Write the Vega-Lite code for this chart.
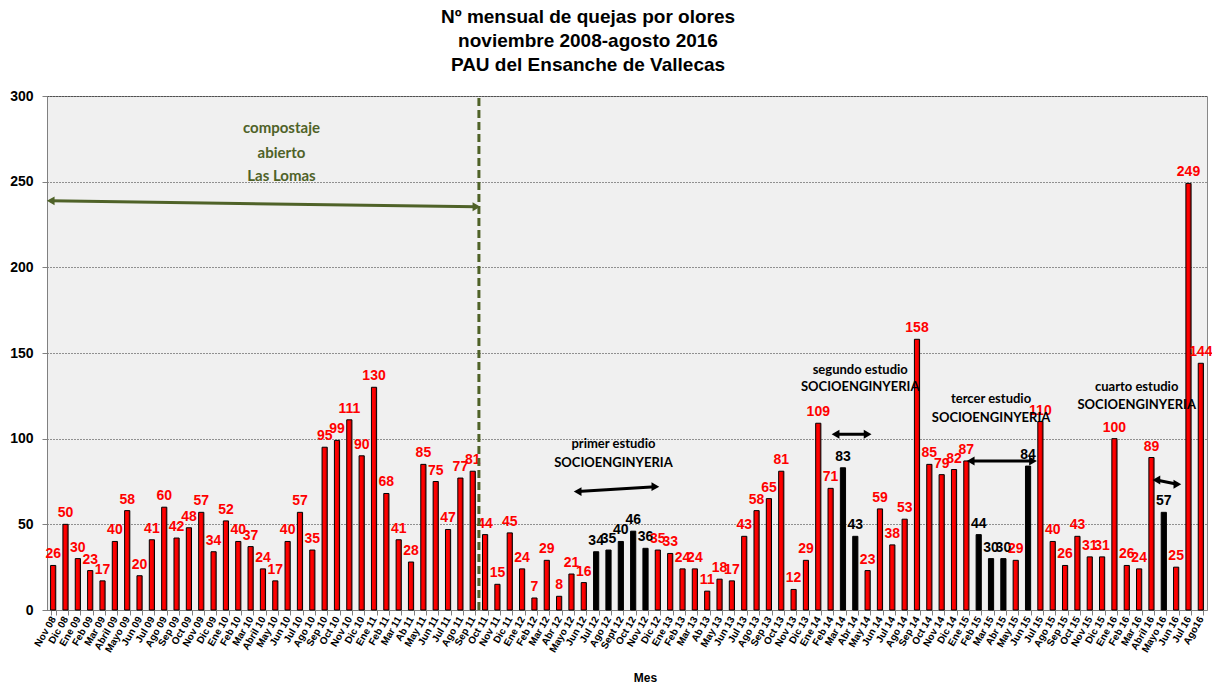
{
  "$schema": "https://vega.github.io/schema/vega-lite/v6.json",
  "width": 1160,
  "height": 514,
  "autosize": {"type": "none"},
  "padding": {"left": 47, "top": 96, "right": 5, "bottom": 76},
  "background": "#FFFFFF",
  "title": {
    "text": ["Nº mensual de quejas por olores", "noviembre 2008-agosto 2016", "PAU del Ensanche de Vallecas"],
    "font": "Liberation Sans Narrow, Liberation Sans, sans-serif",
    "fontSize": 19,
    "fontWeight": "bold",
    "lineHeight": 24,
    "anchor": "middle",
    "dx": -39,
    "offset": 14,
    "color": "#000000"
  },
  "config": {"view": {"fill": "#F0F0F0", "stroke": "#888888"}},
  "datasets": {
    "meses": [
      {"mes": "Nov 08", "quejas": 26, "tipo": "normal"},
      {"mes": "Dic 08", "quejas": 50, "tipo": "normal"},
      {"mes": "Ene 09", "quejas": 30, "tipo": "normal"},
      {"mes": "Feb 09", "quejas": 23, "tipo": "normal"},
      {"mes": "Mar 09", "quejas": 17, "tipo": "normal"},
      {"mes": "Abril 09", "quejas": 40, "tipo": "normal"},
      {"mes": "Mayo 09", "quejas": 58, "tipo": "normal"},
      {"mes": "Jun 09", "quejas": 20, "tipo": "normal"},
      {"mes": "Jul 09", "quejas": 41, "tipo": "normal"},
      {"mes": "Ago 09", "quejas": 60, "tipo": "normal"},
      {"mes": "Sep 09", "quejas": 42, "tipo": "normal"},
      {"mes": "Oct 09", "quejas": 48, "tipo": "normal"},
      {"mes": "Nov 09", "quejas": 57, "tipo": "normal"},
      {"mes": "Dic 09", "quejas": 34, "tipo": "normal"},
      {"mes": "Ene 10", "quejas": 52, "tipo": "normal"},
      {"mes": "Feb 10", "quejas": 40, "tipo": "normal"},
      {"mes": "Mar 10", "quejas": 37, "tipo": "normal"},
      {"mes": "Abril 10", "quejas": 24, "tipo": "normal"},
      {"mes": "May 10", "quejas": 17, "tipo": "normal"},
      {"mes": "Jun 10", "quejas": 40, "tipo": "normal"},
      {"mes": "Jul 10", "quejas": 57, "tipo": "normal"},
      {"mes": "Ago 10", "quejas": 35, "tipo": "normal"},
      {"mes": "Sep 10", "quejas": 95, "tipo": "normal"},
      {"mes": "Oct 10", "quejas": 99, "tipo": "normal"},
      {"mes": "Nov 10", "quejas": 111, "tipo": "normal"},
      {"mes": "Dic 10", "quejas": 90, "tipo": "normal"},
      {"mes": "Ene 11", "quejas": 130, "tipo": "normal"},
      {"mes": "Feb 11", "quejas": 68, "tipo": "normal"},
      {"mes": "Mar 11", "quejas": 41, "tipo": "normal"},
      {"mes": "Ab 11", "quejas": 28, "tipo": "normal"},
      {"mes": "May 11", "quejas": 85, "tipo": "normal"},
      {"mes": "Jun 11", "quejas": 75, "tipo": "normal"},
      {"mes": "Jul 11", "quejas": 47, "tipo": "normal"},
      {"mes": "Ago 11", "quejas": 77, "tipo": "normal"},
      {"mes": "Sep 11", "quejas": 81, "tipo": "normal"},
      {"mes": "Oct 11", "quejas": 44, "tipo": "normal"},
      {"mes": "Nov 11", "quejas": 15, "tipo": "normal"},
      {"mes": "Dic 11", "quejas": 45, "tipo": "normal"},
      {"mes": "Ene 12", "quejas": 24, "tipo": "normal"},
      {"mes": "Feb 12", "quejas": 7, "tipo": "normal"},
      {"mes": "Mar 12", "quejas": 29, "tipo": "normal"},
      {"mes": "Abr 12", "quejas": 8, "tipo": "normal"},
      {"mes": "Mayo 12", "quejas": 21, "tipo": "normal"},
      {"mes": "Jun 12", "quejas": 16, "tipo": "normal"},
      {"mes": "Jul 12", "quejas": 34, "tipo": "estudio"},
      {"mes": "Ago 12", "quejas": 35, "tipo": "estudio"},
      {"mes": "Sept 12", "quejas": 40, "tipo": "estudio"},
      {"mes": "Oct 12", "quejas": 46, "tipo": "estudio"},
      {"mes": "Nov 12", "quejas": 36, "tipo": "estudio"},
      {"mes": "Dic 12", "quejas": 35, "tipo": "normal"},
      {"mes": "Ene 13", "quejas": 33, "tipo": "normal"},
      {"mes": "Feb 13", "quejas": 24, "tipo": "normal"},
      {"mes": "Mar 13", "quejas": 24, "tipo": "normal"},
      {"mes": "Ab 13", "quejas": 11, "tipo": "normal"},
      {"mes": "May 13", "quejas": 18, "tipo": "normal"},
      {"mes": "Jun 13", "quejas": 17, "tipo": "normal"},
      {"mes": "Jul 13", "quejas": 43, "tipo": "normal"},
      {"mes": "Ago 13", "quejas": 58, "tipo": "normal"},
      {"mes": "Sep 13", "quejas": 65, "tipo": "normal"},
      {"mes": "Oct 13", "quejas": 81, "tipo": "normal"},
      {"mes": "Nov 13", "quejas": 12, "tipo": "normal"},
      {"mes": "Dic 13", "quejas": 29, "tipo": "normal"},
      {"mes": "Ene 14", "quejas": 109, "tipo": "normal"},
      {"mes": "Feb 14", "quejas": 71, "tipo": "normal"},
      {"mes": "Mar 14", "quejas": 83, "tipo": "estudio"},
      {"mes": "Abr 14", "quejas": 43, "tipo": "estudio"},
      {"mes": "May 14", "quejas": 23, "tipo": "normal"},
      {"mes": "Jun 14", "quejas": 59, "tipo": "normal"},
      {"mes": "Jul 14", "quejas": 38, "tipo": "normal"},
      {"mes": "Ago 14", "quejas": 53, "tipo": "normal"},
      {"mes": "Sep 14", "quejas": 158, "tipo": "normal"},
      {"mes": "Oct 14", "quejas": 85, "tipo": "normal"},
      {"mes": "Nov 14", "quejas": 79, "tipo": "normal"},
      {"mes": "Dic 14", "quejas": 82, "tipo": "normal"},
      {"mes": "Ene 15", "quejas": 87, "tipo": "normal"},
      {"mes": "Feb 15", "quejas": 44, "tipo": "estudio"},
      {"mes": "Mar 15", "quejas": 30, "tipo": "estudio"},
      {"mes": "Abr 15", "quejas": 30, "tipo": "estudio"},
      {"mes": "May 15", "quejas": 29, "tipo": "normal"},
      {"mes": "Jun 15", "quejas": 84, "tipo": "estudio"},
      {"mes": "Jul 15", "quejas": 110, "tipo": "normal"},
      {"mes": "Ago 15", "quejas": 40, "tipo": "normal"},
      {"mes": "Sep 15", "quejas": 26, "tipo": "normal"},
      {"mes": "Oct 15", "quejas": 43, "tipo": "normal"},
      {"mes": "Nov 15", "quejas": 31, "tipo": "normal"},
      {"mes": "Dic 15", "quejas": 31, "tipo": "normal"},
      {"mes": "Ene 16", "quejas": 100, "tipo": "normal"},
      {"mes": "Feb 16", "quejas": 26, "tipo": "normal"},
      {"mes": "Mar 16", "quejas": 24, "tipo": "normal"},
      {"mes": "Abril 16", "quejas": 89, "tipo": "normal"},
      {"mes": "Mayo 16", "quejas": 57, "tipo": "estudio"},
      {"mes": "Jun 16", "quejas": 25, "tipo": "normal"},
      {"mes": "Jul 16", "quejas": 249, "tipo": "normal"},
      {"mes": "Ago16", "quejas": 144, "tipo": "normal"}
    ],
    "lineas": [
      {"pos": 35, "y0": 0, "y1": 300}
    ],
    "flechas": [
      {"x1": 0.3, "y1": 238.8, "x2": 34.8, "y2": 235.4, "tipo": "compostaje"},
      {"x1": 43.0, "y1": 69.1, "x2": 49.3, "y2": 72.0, "tipo": "estudio"},
      {"x1": 63.9, "y1": 102.6, "x2": 66.5, "y2": 102.6, "tipo": "estudio"},
      {"x1": 74.85, "y1": 87.0, "x2": 79.9, "y2": 87.0, "tipo": "estudio"},
      {"x1": 89.9, "y1": 75.9, "x2": 91.6, "y2": 73.4, "tipo": "estudio"}
    ],
    "notas": [
      {"pos": 19.0, "y": 281.4, "texto": "compostaje", "tipo": "compostaje"},
      {"pos": 19.0, "y": 266.8, "texto": "abierto", "tipo": "compostaje"},
      {"pos": 19.0, "y": 253.4, "texto": "Las Lomas", "tipo": "compostaje"},
      {"pos": 45.9, "y": 96.9, "texto": "primer estudio", "tipo": "estudio"},
      {"pos": 45.9, "y": 86.0, "texto": "SOCIOENGINYERIA", "tipo": "estudio"},
      {"pos": 65.9, "y": 140.1, "texto": "segundo estudio", "tipo": "estudio"},
      {"pos": 65.9, "y": 130.0, "texto": "SOCIOENGINYERIA", "tipo": "estudio"},
      {"pos": 76.5, "y": 123.0, "texto": "tercer estudio", "tipo": "estudio"},
      {"pos": 76.5, "y": 112.3, "texto": "SOCIOENGINYERIA", "tipo": "estudio"},
      {"pos": 88.3, "y": 130.4, "texto": "cuarto estudio", "tipo": "estudio"},
      {"pos": 88.3, "y": 119.7, "texto": "SOCIOENGINYERIA", "tipo": "estudio"}
    ]
  },
  "layer": [
    {
      "data": {"name": "meses"},
      "encoding": {
        "x": {
          "field": "mes",
          "type": "ordinal",
          "sort": null,
          "scale": {"paddingInner": 0.58, "paddingOuter": 0.29},
          "axis": {
            "title": "Mes",
            "titleFont": "Liberation Sans",
            "titleFontSize": 12,
            "titleFontWeight": "bold",
            "titleColor": "#000000",
            "titleX": 598,
            "titleY": 67,
            "titleBaseline": "middle",
            "labelAngle": -60,
            "labelFont": "Liberation Sans",
            "labelFontSize": 10,
            "labelFontWeight": "bold",
            "labelColor": "#000000",
            "labelOverlap": false,
            "labelPadding": 2,
            "tickBand": "extent",
            "tickColor": "#808080",
            "tickSize": 5,
            "domainColor": "#808080"
          }
        },
        "y": {
          "field": "quejas",
          "type": "quantitative",
          "scale": {"domain": [0, 300], "nice": false},
          "axis": {
            "title": null,
            "values": [0, 50, 100, 150, 200, 250, 300],
            "labelFont": "Liberation Sans",
            "labelFontSize": 14,
            "labelFontWeight": "bold",
            "labelColor": "#000000",
            "labelPadding": 9,
            "tickColor": "#808080",
            "tickSize": 5,
            "domainColor": "#808080",
            "gridColor": "#000000",
            "gridDash": [1, 2],
            "gridOpacity": 0.8
          }
        }
      },
      "layer": [
        {
          "mark": {"type": "bar", "stroke": "#000000", "strokeWidth": 1},
          "encoding": {
            "fill": {
              "condition": {"test": "datum.tipo == 'estudio'", "value": "#000000"},
              "value": {
                "gradient": "linear",
                "x1": 0, "y1": 0, "x2": 1, "y2": 0,
                "stops": [
                  {"offset": 0, "color": "#FF0000"},
                  {"offset": 0.55, "color": "#FF0000"},
                  {"offset": 1, "color": "#B00000"}
                ]
              }
            }
          }
        },
        {
          "mark": {
            "type": "text",
            "baseline": "bottom",
            "dy": -4,
            "font": "Liberation Sans Narrow, Liberation Sans",
            "fontSize": 14,
            "fontWeight": "bold"
          },
          "encoding": {
            "text": {"field": "quejas", "type": "quantitative"},
            "color": {
              "field": "tipo",
              "type": "nominal",
              "scale": {"domain": ["normal", "estudio"], "range": ["#FF0000", "#000000"]},
              "legend": null
            }
          }
        }
      ]
    },
    {
      "layer": [
        {
          "data": {"name": "lineas"},
          "mark": {"type": "rule", "color": "#4F6228", "strokeWidth": 3, "strokeDash": [8, 4]},
          "encoding": {
            "x": {"field": "pos", "type": "quantitative", "scale": {"domain": [0, 94], "nice": false, "zero": false}, "axis": null},
            "y": {"field": "y0", "type": "quantitative"},
            "y2": {"field": "y1"}
          }
        },
        {
          "data": {"name": "flechas"},
          "encoding": {
            "color": {
              "field": "tipo",
              "type": "nominal",
              "scale": {"domain": ["compostaje", "estudio"], "range": ["#4F6228", "#000000"]},
              "legend": null
            }
          },
          "layer": [
            {
              "mark": {"type": "rule", "strokeWidth": 3},
              "encoding": {
                "x": {"field": "x1", "type": "quantitative", "scale": {"domain": [0, 94], "nice": false, "zero": false}, "axis": null},
                "y": {"field": "y1", "type": "quantitative"},
                "x2": {"field": "x2"},
                "y2": {"field": "y2"}
              }
            },
            {
              "mark": {"type": "point", "shape": "triangle-left", "filled": true, "size": 80, "opacity": 1},
              "encoding": {
                "x": {"field": "x1", "type": "quantitative"},
                "y": {"field": "y1", "type": "quantitative"}
              }
            },
            {
              "mark": {"type": "point", "shape": "triangle-right", "filled": true, "size": 80, "opacity": 1},
              "encoding": {
                "x": {"field": "x2", "type": "quantitative"},
                "y": {"field": "y2", "type": "quantitative"}
              }
            }
          ]
        },
        {
          "data": {"name": "notas"},
          "transform": [{"filter": "datum.tipo == 'compostaje'"}],
          "mark": {"type": "text", "font": "Lato", "fontSize": 15, "fontWeight": "bold", "color": "#4F6228", "baseline": "middle"},
          "encoding": {
            "x": {"field": "pos", "type": "quantitative"},
            "y": {"field": "y", "type": "quantitative"},
            "text": {"field": "texto"}
          }
        },
        {
          "data": {"name": "notas"},
          "transform": [{"filter": "datum.tipo == 'estudio'"}],
          "mark": {"type": "text", "font": "Lato", "fontSize": 13, "fontWeight": "bold", "color": "#000000", "baseline": "middle"},
          "encoding": {
            "x": {"field": "pos", "type": "quantitative"},
            "y": {"field": "y", "type": "quantitative"},
            "text": {"field": "texto"}
          }
        }
      ]
    }
  ],
  "resolve": {"scale": {"x": "independent", "color": "independent"}}
}
